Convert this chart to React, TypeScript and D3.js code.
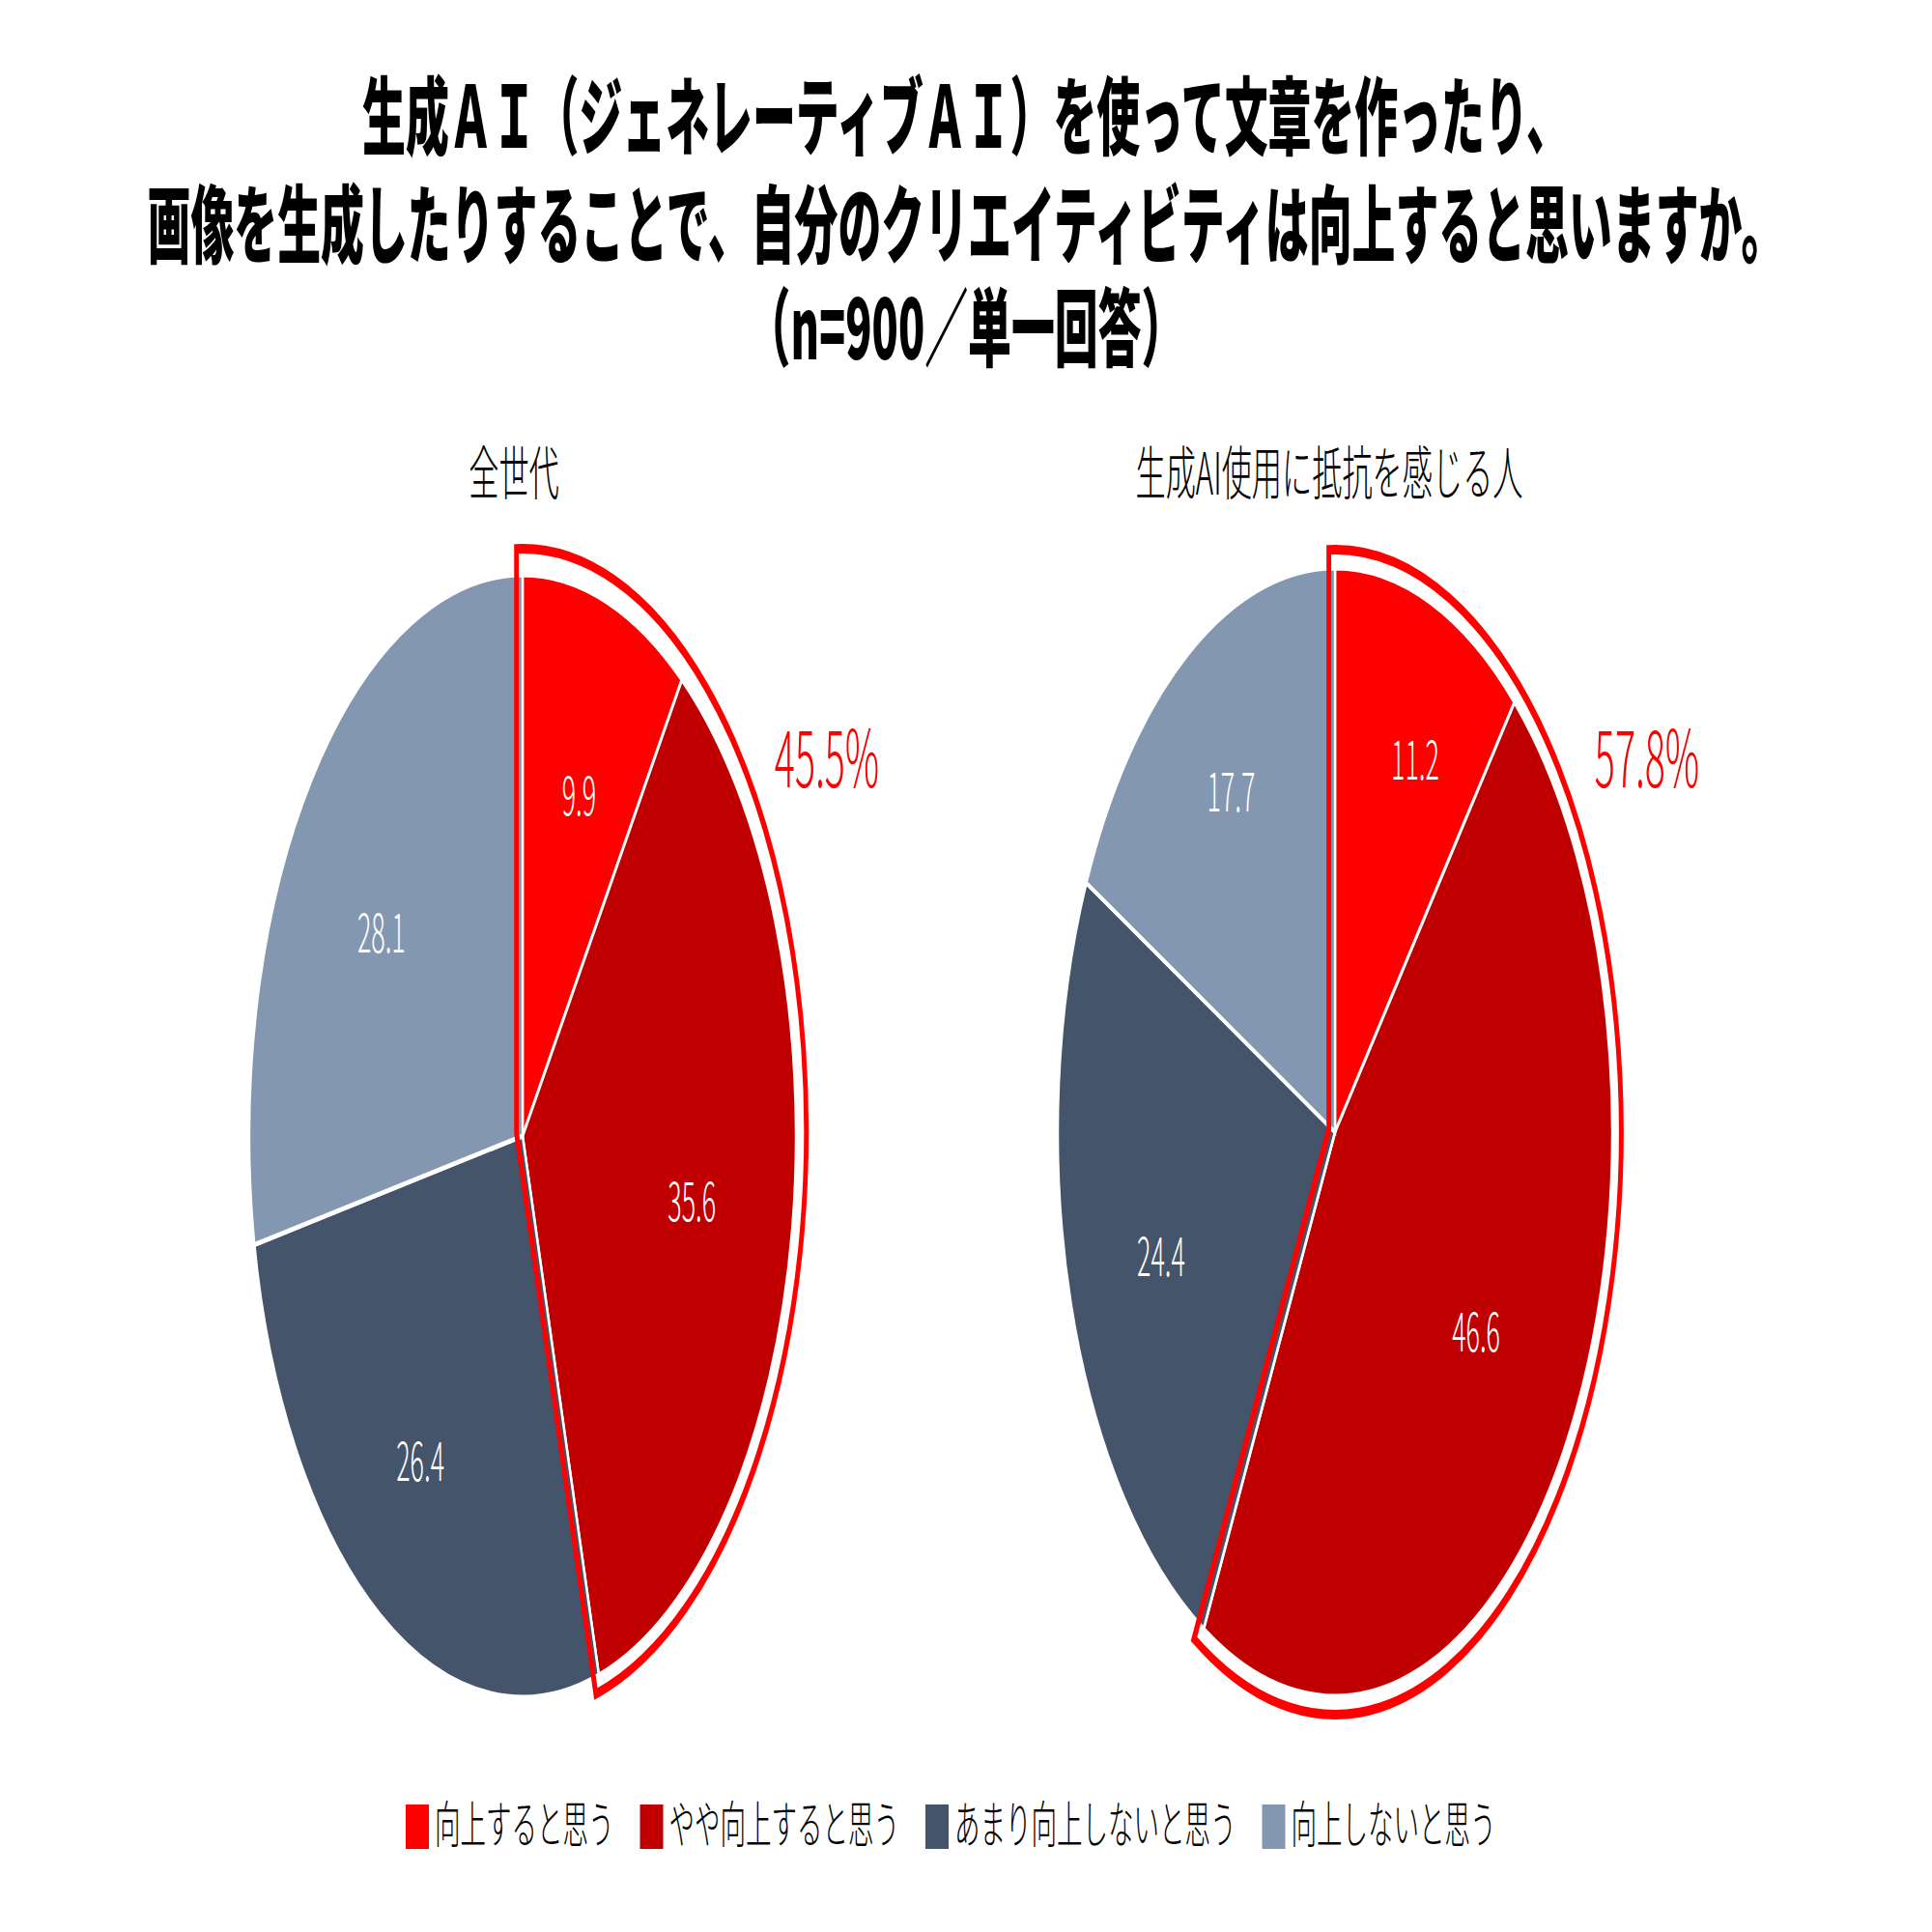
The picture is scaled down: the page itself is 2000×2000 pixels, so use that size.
import React from "react";
import * as d3 from "d3";

const categories = ["向上すると思う", "やや向上すると思う", "あまり向上しないと思う", "向上しないと思う"];
const sliceColors = ["#FF0000", "#C00000", "#44546A", "#8497B0"];
const panelTitles = ["全世代", "生成AI使用に抵抗を感じる人"];
const valuesAll = [9.9, 35.6, 26.4, 28.1];
const valuesResist = [11.2, 46.6, 24.4, 17.7];
const highlightLabels = ["45.5%", "57.8%"];
const titleLines = [
  "生成ＡＩ（ジェネレーティブＡＩ）を使って文章を作ったり、",
  "画像を生成したりすることで、自分のクリエイティビティは向上すると思いますか。",
  "（n=900／単一回答）",
];

// label placement (fraction of radius, angle nudge in degrees)
const labelRadiusAll = [0.64, 0.63, 0.69, 0.63];
const labelNudgeAll = [1, 1, 1.5, -4.5];
const labelRadiusResist = [0.72, 0.62, 0.665, 0.71];
const labelNudgeResist = [3.5, 0.5, -1.6, 0];

const FONT = "'Noto Sans CJK JP', 'Noto Sans CJK SC', sans-serif";

const panels = [
  { title: panelTitles[0], values: valuesAll, hl: highlightLabels[0], lr: labelRadiusAll, ln: labelNudgeAll, cx: 541, cy: 1176, rx: 283, ry: 581, titleX: 532, hlX: 856, grow: 22, shiftY: -5 },
  { title: panelTitles[1], values: valuesResist, hl: highlightLabels[1], lr: labelRadiusResist, ln: labelNudgeResist, cx: 1382, cy: 1172, rx: 287, ry: 584, titleX: 1376, hlX: 1705, grow: 19, shiftY: 0 },
];

function outlinePath(a0: number, a1: number, R: number, d: number) {
  const n0 = [-Math.cos(a0), -Math.sin(a0)];
  const n1 = [Math.cos(a1), Math.sin(a1)];
  const det = n0[0] * n1[1] - n0[1] * n1[0];
  const vx = (d * n1[1] - n0[1] * d) / det;
  const vy = (n0[0] * d - d * n1[0]) / det;
  const t = Math.sqrt(R * R - d * d);
  const u0 = [Math.sin(a0), -Math.cos(a0)];
  const u1 = [Math.sin(a1), -Math.cos(a1)];
  const p1 = [d * n0[0] + t * u0[0], d * n0[1] + t * u0[1]];
  const p2 = [d * n1[0] + t * u1[0], d * n1[1] + t * u1[1]];
  const large = a1 - a0 > Math.PI ? 1 : 0;
  return `M${vx},${vy}L${p1[0]},${p1[1]}A${R},${R} 0 ${large} 1 ${p2[0]},${p2[1]}Z`;
}

function Pie({ p }: { p: (typeof panels)[number] }) {
  const R = p.ry;
  const sx = p.rx / p.ry;
  const arcs = d3.pie<number>().sort(null).value((v) => v)(p.values);
  const arcGen = d3.arc<d3.PieArcDatum<number>>().innerRadius(0).outerRadius(R);
  const hlEnd = arcs[1].endAngle;
  return (
    <g>
      <g transform={`translate(${p.cx},${p.cy}) scale(${sx},1)`}>
        {arcs.map((a, i) => (
          <path key={i} d={arcGen(a) || ""} fill={sliceColors[i]} stroke="#FFFFFF" strokeWidth={5} strokeLinejoin="miter" />
        ))}
        <path
          transform={`translate(0,${p.shiftY})`}
          d={outlinePath(0, hlEnd, R + p.grow, 13)}
          fill="none"
          stroke="#FF0000"
          strokeWidth={10}
          strokeLinejoin="miter"
        />
      </g>
      {arcs.map((a, i) => {
        const mid = (a.startAngle + a.endAngle) / 2 + (p.ln[i] * Math.PI) / 180;
        const lr = p.lr[i] * R;
        const x = p.cx + sx * lr * Math.sin(mid);
        const y = p.cy - lr * Math.cos(mid);
        return (
          <text key={i} transform={`translate(${x},${y + 20}) scale(0.48,1)`} textAnchor="middle" fontSize={56} fontFamily={FONT} fontWeight={300} fill="#FFFFFF">
            {d3.format(".1f")(a.data)}
          </text>
        );
      })}
      <text transform={`translate(${p.titleX},512) scale(0.52,1)`} textAnchor="middle" fontSize={60} fontFamily={FONT} fontWeight={300} fill="#000000">
        {p.title}
      </text>
      <text transform={`translate(${p.hlX},815) scale(0.48,1)`} textAnchor="middle" fontSize={82} fontFamily={FONT} fontWeight={300} fill="#FF0000">
        {p.hl}
      </text>
    </g>
  );
}

export default function App() {
  const charW = 26.5;
  const legendFs = 52;
  let lx = 420;
  const legendItems = categories.map((c, i) => {
    const item = { c, i, x: lx };
    lx += 24 + 6 + c.length * charW + 27;
    return item;
  });
  return (
    <svg width={2000} height={2000} viewBox="0 0 2000 2000" style={{ display: "block", position: "absolute", left: 0, top: 0, background: "#FFFFFF" }}>
      <rect x={0} y={0} width={2000} height={2000} fill="#FFFFFF" />
      {titleLines.map((t, i) => (
        <text key={i} transform={`translate(1000,${[153, 265, 372][i]}) scale(0.51,1)`} textAnchor="middle" fontSize={88} fontFamily={FONT} fontWeight={900} fill="#000000">
          {t}
        </text>
      ))}
      {panels.map((p, i) => (
        <Pie key={i} p={p} />
      ))}
      {legendItems.map((it) => (
        <g key={it.i}>
          <rect x={it.x} y={1868} width={24} height={46} fill={sliceColors[it.i]} />
          <text transform={`translate(${it.x + 30},1908) scale(${charW / legendFs},1)`} fontSize={legendFs} fontFamily={FONT} fontWeight={300} fill="#000000">
            {it.c}
          </text>
        </g>
      ))}
    </svg>
  );
}
